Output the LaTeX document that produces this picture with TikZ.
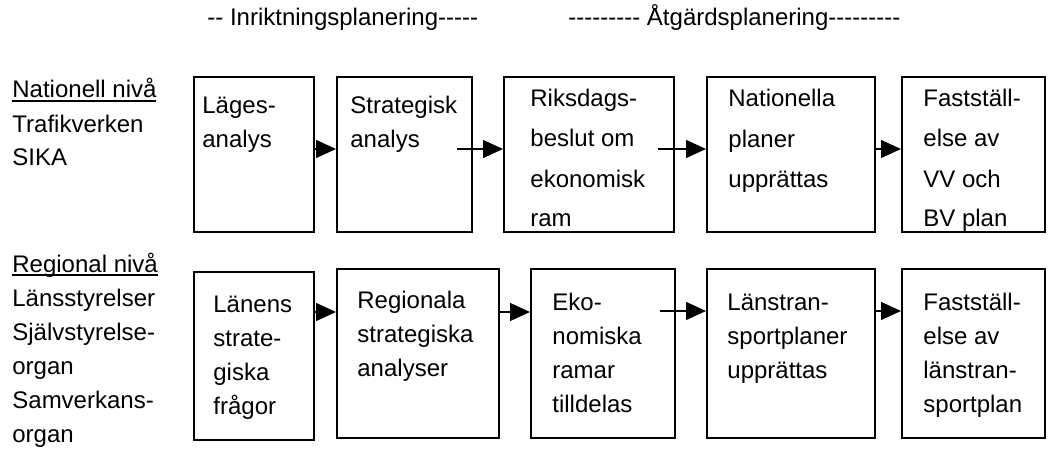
\documentclass[tikz,border=0pt]{standalone}
\usepackage{fontspec}
\setmainfont{Liberation Sans}[Ligatures=TeXOff]
\usetikzlibrary{arrows.meta}
\newcommand\nivaul[1]{\setbox0\hbox{#1}\rlap{\rule[-2pt]{\wd0}{0.9pt}}\box0}

\begin{document}
\begin{tikzpicture}[x=0.5pt,y=-0.5pt, every node/.style={inner sep=0pt,font=\fontsize{12}{17}\selectfont,align=left},
  box/.style={draw,line width=1pt,anchor=north west},
  lbl/.style={anchor=base west},
  wide/.style={font=\fontsize{12}{20}\selectfont},
  a/.style={-{Triangle[length=10pt,width=9pt]},line width=0.6pt}]
  \useasboundingbox (0,0) rectangle (1050,449);
  % headings
  \node[lbl] (inr) at (207,26) {-- Inriktningsplanering-----};
  \node[lbl] (atg) at (568,26) {--------- Åtgärdsplanering---------};
  % levels (placed at the last baseline)
  \node[lbl] (nat) at (12,166) {\nivaul{Nationell nivå}\\Trafikverken\\SIKA};
  \node[lbl] (reg) at (12,442) {\nivaul{Regional nivå}\\Länsstyrelser\\Självstyrelse-\\organ\\Samverkans-\\organ};
  % national row
  \node[box,minimum width=60pt,minimum height=77.5pt] (n1) at (193,76) {};
  \node[box,minimum width=67.5pt,minimum height=77.5pt] (n2) at (336,76) {};
  \node[box,minimum width=85pt,minimum height=77.5pt] (n3) at (503,76) {};
  \node[box,minimum width=84pt,minimum height=77.5pt] (n4) at (706,76) {};
  \node[box,minimum width=71.5pt,minimum height=77.5pt] (n5) at (901,76) {};
  \node[lbl] (tn1) at (202,148) {Läges-\\analys};
  \node[lbl] (tn2) at (350,148) {Strategisk\\analys};
  \node[lbl,wide] (tn3) at (530,227) {Riksdags-\\beslut om\\ekonomisk\\ram};
  \node[lbl,wide] (tn4) at (728,187) {Nationella\\planer\\upprättas};
  \node[lbl,wide] (tn5) at (923,227) {Fastställ-\\else av\\VV och\\BV plan};
  % regional row
  \node[box,minimum width=60pt,minimum height=84pt] (r1) at (193,271) {};
  \node[box,minimum width=81pt,minimum height=84.5pt] (r2) at (336,268) {};
  \node[box,minimum width=72pt,minimum height=84.5pt] (r3) at (530,268) {};
  \node[box,minimum width=84pt,minimum height=84.5pt] (r4) at (706,268) {};
  \node[box,minimum width=71.5pt,minimum height=84.5pt] (r5) at (901,268) {};
  \node[lbl] (tr1) at (213,414) {Länens\\strate-\\giska\\frågor};
  \node[lbl] (tr2) at (357,376) {Regionala\\strategiska\\analyser};
  \node[lbl] (tr3) at (552,412) {Eko-\\nomiska\\ramar\\tilldelas};
  \node[lbl] (tr4) at (727,378) {Länstran-\\sportplaner\\upprättas};
  \node[lbl] (tr5) at (923,412) {Fastställ-\\else av\\länstran-\\sportplan};
  % arrows
  \coordinate (s2) at (457,149);
  \coordinate (s3) at (658,149);
  \coordinate (q3) at (660,311);
  \draw[a] (n1.east |- 0,149) -- (n2.west |- 0,149);
  \draw[a] (s2) -- (n3.west |- s2);
  \draw[a] (s3) -- (n4.west |- s3);
  \draw[a] (n4.east |- 0,149) -- (n5.west |- 0,149);
  \draw[a] (r1.east |- 0,312) -- (r2.west |- 0,312);
  \draw[a] (r2.east |- 0,312) -- (r3.west |- 0,312);
  \draw[a] (q3) -- (r4.west |- q3);
  \draw[a] (r4.east |- 0,311) -- (r5.west |- 0,311);
\end{tikzpicture}
\end{document}
